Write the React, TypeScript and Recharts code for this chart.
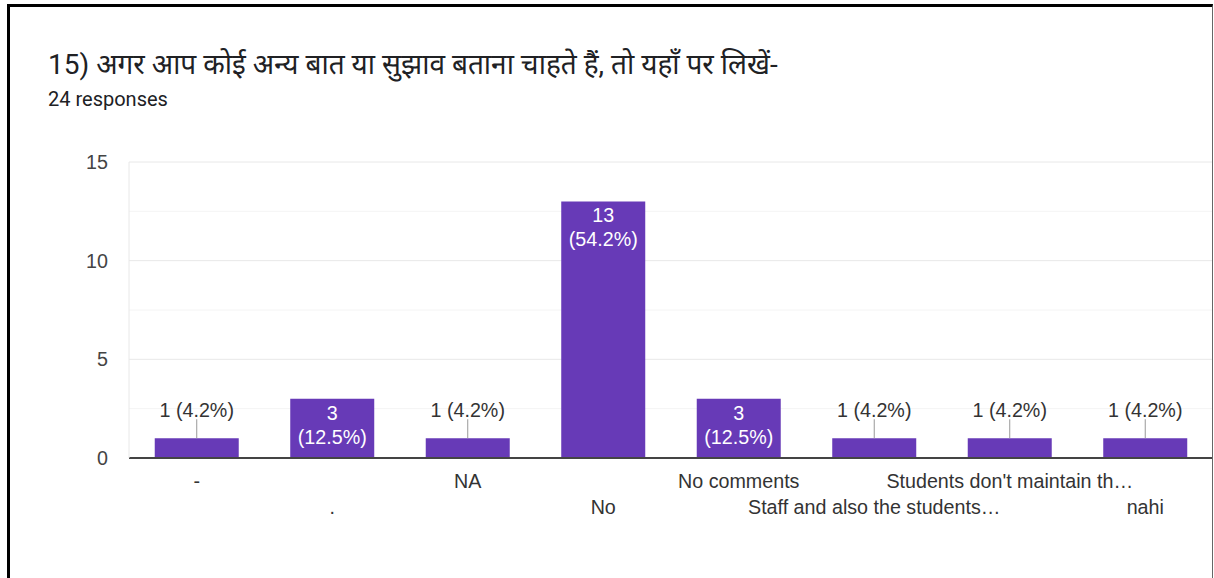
import React from 'react';
import { BarChart, Bar, XAxis, YAxis, CartesianGrid, LabelList } from 'recharts';

const TITLE = '15) अगर आप कोई अन्य बात या सुझाव बताना चाहते हैं, तो यहाँ पर लिखें-';
const SUBTITLE = '24 responses';
const TOTAL = 24;

const categories = ['-', '.', 'NA', 'No', 'No comments', 'Staff and also the students…', "Students don't maintain th…", 'nahi'];
const counts = [1, 3, 1, 13, 3, 1, 1, 1];
const yTicks = [0, 5, 10, 15];
const minorTicks = [2.5, 7.5, 12.5];

const data = categories.map((c, i) => ({ name: c, value: counts[i] }));

const FONT = '"Liberation Sans", Arial, sans-serif';
const TEXT_FONT = 'Roboto, "Noto Sans", "Noto Sans Devanagari", "Lohit Devanagari", sans-serif';
const FS = 19.7;

const XTick = (props: any) => {
  const { x, y, payload, index } = props;
  const dy = index % 2 === 0 ? 23 : 49;
  return (
    <text x={x} y={y + dy} textAnchor="middle" dominantBaseline="central" fill="#333" fontSize={FS} fontFamily={FONT}>
      {payload.value}
    </text>
  );
};

const BarLabel = (props: any) => {
  const { x, y, width, value } = props;
  const cx = x + width / 2;
  const pct = ((value / TOTAL) * 100).toFixed(1) + '%';
  if (value >= 3) {
    return (
      <g>
        <text x={cx} y={y + 14} textAnchor="middle" dominantBaseline="central" fill="#fff" fontSize={FS} fontFamily={FONT}>
          {value}
        </text>
        <text x={cx} y={y + 38} textAnchor="middle" dominantBaseline="central" fill="#fff" fontSize={FS} fontFamily={FONT}>
          {'(' + pct + ')'}
        </text>
      </g>
    );
  }
  return (
    <g>
      <line x1={cx} x2={cx} y1={y} y2={y - 19} stroke="#999" strokeWidth={1} />
      <text x={cx} y={y - 28} textAnchor="middle" dominantBaseline="central" fill="#333" fontSize={FS} fontFamily={FONT}>
        {value + ' (' + pct + ')'}
      </text>
    </g>
  );
};

export default function App() {
  return (
    <div style={{ position: 'absolute', left: 0, top: 0, width: 1214, height: 578, background: '#fff', overflow: 'hidden' }}>
      <div style={{ position: 'absolute', left: 48, top: 47, fontFamily: TEXT_FONT, fontSize: 28, color: '#202124', whiteSpace: 'nowrap', lineHeight: '36px' }}>
        {TITLE}
      </div>
      <div style={{ position: 'absolute', left: 48, top: 87, fontFamily: 'Roboto, sans-serif', fontSize: 20, color: '#202124', whiteSpace: 'nowrap', lineHeight: '24px' }}>
        {SUBTITLE}
      </div>
      <div style={{ position: 'absolute', left: 0, top: 0 }}>
        <BarChart width={1214} height={578} data={data} margin={{ top: 162, right: 1, bottom: 90, left: 69 }} barCategoryGap="19%">
          <CartesianGrid vertical={false} horizontalValues={minorTicks} stroke="#f4f4f4" />
          <CartesianGrid vertical={false} horizontalValues={yTicks} stroke="#e8e8e8" />
          <XAxis dataKey="name" height={30} interval={0} tickLine={false} tickSize={0} tickMargin={0} axisLine={{ stroke: '#444', strokeWidth: 2 }} tick={<XTick />} />
          <YAxis width={60} domain={[0, 15]} ticks={yTicks} tickLine={false} tickSize={0} tickMargin={21} axisLine={{ stroke: '#e8e8e8' }} tick={{ fill: '#444', fontSize: FS, fontFamily: FONT }} />
          <Bar dataKey="value" fill="#673ab7" isAnimationActive={false}>
            <LabelList dataKey="value" content={<BarLabel />} />
          </Bar>
        </BarChart>
      </div>
      <div style={{ position: 'absolute', left: 7, top: 4, width: 1202, height: 620, borderTop: '3px solid #000', borderLeft: '3px solid #000', borderRight: '1px solid #666', pointerEvents: 'none' }} />
    </div>
  );
}
